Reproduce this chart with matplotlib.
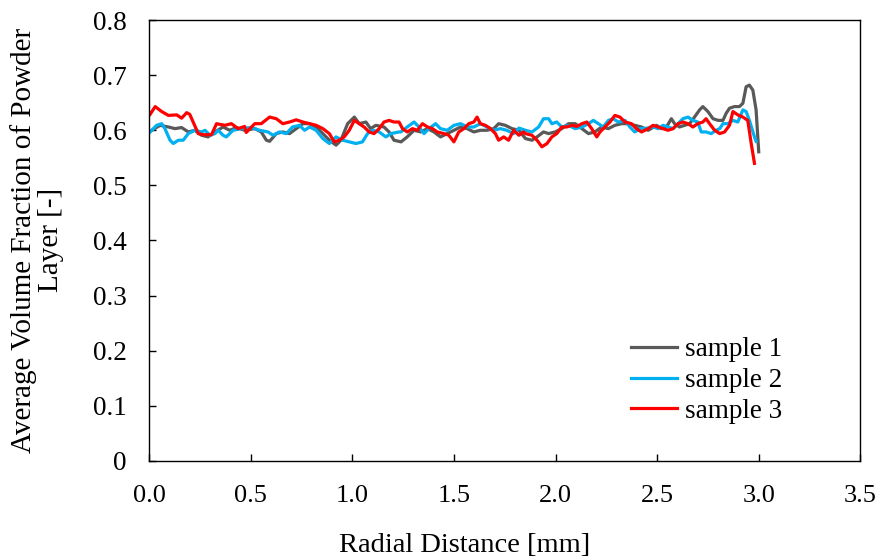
import matplotlib
matplotlib.use("Agg")
import matplotlib.pyplot as plt
from matplotlib.ticker import FuncFormatter

plt.rcParams['font.family'] = ['Liberation Serif', 'DejaVu Serif']

# sample 1 (grey)
x1 = [0.013, 0.054, 0.095, 0.127, 0.16, 0.193, 0.225, 0.258, 0.29, 0.324,
      0.364, 0.397, 0.43, 0.47, 0.52, 0.552, 0.577, 0.593, 0.626, 0.658,
      0.691, 0.724, 0.757, 0.79, 0.822, 0.855, 0.887, 0.92, 0.944, 0.977,
      1.01, 1.034, 1.067, 1.09, 1.116, 1.156, 1.181, 1.205, 1.24, 1.27,
      1.304, 1.337, 1.37, 1.402, 1.434, 1.467, 1.5, 1.533, 1.565, 1.598,
      1.63, 1.663, 1.696, 1.72, 1.753, 1.786, 1.82, 1.852, 1.884, 1.909,
      1.941, 1.966, 1.998, 2.031, 2.064, 2.097, 2.13, 2.162, 2.194, 2.227,
      2.26, 2.292, 2.325, 2.358, 2.39, 2.423, 2.456, 2.497, 2.521, 2.546,
      2.57, 2.586, 2.61, 2.635, 2.66, 2.684, 2.709, 2.725, 2.75, 2.775,
      2.8, 2.824, 2.84, 2.856, 2.88, 2.905, 2.922, 2.938, 2.954, 2.971,
      2.987, 3.0]
y1 = [0.600, 0.609, 0.606, 0.603, 0.605, 0.597, 0.600, 0.591, 0.588, 0.597,
      0.606, 0.600, 0.605, 0.600, 0.603, 0.597, 0.582, 0.580, 0.594, 0.597,
      0.594, 0.603, 0.612, 0.612, 0.606, 0.594, 0.582, 0.573, 0.582, 0.612,
      0.624, 0.612, 0.615, 0.603, 0.609, 0.606, 0.597, 0.582, 0.579, 0.588,
      0.600, 0.597, 0.603, 0.597, 0.588, 0.594, 0.600, 0.606, 0.603, 0.597,
      0.600, 0.600, 0.603, 0.612, 0.609, 0.603, 0.600, 0.585, 0.582, 0.588,
      0.597, 0.594, 0.597, 0.603, 0.612, 0.612, 0.603, 0.594, 0.597, 0.606,
      0.603, 0.609, 0.612, 0.612, 0.609, 0.606, 0.600, 0.609, 0.603, 0.606,
      0.621, 0.612, 0.606, 0.609, 0.612, 0.624, 0.637, 0.643, 0.634, 0.621,
      0.618, 0.618, 0.631, 0.640, 0.643, 0.643, 0.649, 0.679, 0.682, 0.673,
      0.637, 0.561]

# sample 2 (blue)
x2 = [0.005, 0.037, 0.062, 0.078, 0.103, 0.119, 0.144, 0.168, 0.193, 0.225,
      0.258, 0.275, 0.30, 0.324, 0.34, 0.364, 0.38, 0.413, 0.454, 0.503,
      0.544, 0.585, 0.61, 0.642, 0.675, 0.706, 0.74, 0.765, 0.79, 0.822,
      0.855, 0.887, 0.92, 0.952, 0.985, 1.018, 1.05, 1.075, 1.10, 1.132,
      1.165, 1.19, 1.23, 1.239, 1.27, 1.304, 1.328, 1.353, 1.377, 1.41,
      1.434, 1.467, 1.5, 1.533, 1.565, 1.598, 1.63, 1.663, 1.696, 1.729,
      1.76, 1.794, 1.82, 1.852, 1.884, 1.917, 1.941, 1.966, 1.982, 2.006,
      2.031, 2.064, 2.097, 2.13, 2.162, 2.186, 2.211, 2.235, 2.26, 2.284,
      2.309, 2.342, 2.366, 2.39, 2.415, 2.456, 2.48, 2.505, 2.529, 2.554,
      2.578, 2.603, 2.627, 2.652, 2.676, 2.7, 2.717, 2.741, 2.766, 2.79,
      2.808, 2.824, 2.848, 2.873, 2.897, 2.922, 2.938, 2.954, 2.979, 2.987]
y2 = [0.597, 0.609, 0.612, 0.603, 0.582, 0.576, 0.582, 0.582, 0.594, 0.600,
      0.597, 0.600, 0.591, 0.594, 0.600, 0.591, 0.588, 0.600, 0.603, 0.605,
      0.600, 0.597, 0.591, 0.597, 0.594, 0.606, 0.609, 0.600, 0.606, 0.600,
      0.585, 0.576, 0.588, 0.582, 0.579, 0.576, 0.579, 0.594, 0.600, 0.597,
      0.588, 0.594, 0.597, 0.597, 0.606, 0.615, 0.606, 0.594, 0.603, 0.612,
      0.603, 0.600, 0.609, 0.612, 0.606, 0.606, 0.612, 0.606, 0.600, 0.603,
      0.600, 0.594, 0.604, 0.600, 0.597, 0.606, 0.621, 0.621, 0.612, 0.615,
      0.606, 0.609, 0.603, 0.606, 0.612, 0.618, 0.612, 0.606, 0.618, 0.621,
      0.615, 0.618, 0.606, 0.597, 0.603, 0.604, 0.606, 0.603, 0.609, 0.606,
      0.603, 0.612, 0.621, 0.624, 0.618, 0.615, 0.597, 0.597, 0.594, 0.600,
      0.603, 0.612, 0.612, 0.618, 0.615, 0.637, 0.634, 0.618, 0.588, 0.580]

# sample 3 (red)
x3 = [0.005, 0.03, 0.062, 0.095, 0.136, 0.16, 0.185, 0.20, 0.242, 0.266,
      0.307, 0.332, 0.373, 0.405, 0.438, 0.47, 0.478, 0.52, 0.552, 0.593,
      0.626, 0.658, 0.691, 0.724, 0.757, 0.79, 0.822, 0.855, 0.887, 0.911,
      0.936, 0.96, 0.985, 1.01, 1.034, 1.058, 1.083, 1.107, 1.132, 1.156,
      1.181, 1.205, 1.23, 1.247, 1.27, 1.296, 1.32, 1.345, 1.37, 1.394,
      1.418, 1.451, 1.475, 1.5, 1.524, 1.549, 1.573, 1.598, 1.614, 1.63,
      1.655, 1.68, 1.704, 1.72, 1.745, 1.769, 1.794, 1.82, 1.843, 1.852,
      1.884, 1.909, 1.933, 1.958, 1.982, 2.006, 2.031, 2.055, 2.08, 2.105,
      2.13, 2.154, 2.178, 2.203, 2.219, 2.243, 2.268, 2.292, 2.317, 2.342,
      2.374, 2.398, 2.423, 2.456, 2.48, 2.505, 2.529, 2.554, 2.578, 2.603,
      2.627, 2.652, 2.676, 2.7, 2.725, 2.741, 2.758, 2.783, 2.808, 2.832,
      2.856, 2.873, 2.897, 2.922, 2.946, 2.963, 2.979]
y3 = [0.629, 0.643, 0.634, 0.627, 0.628, 0.622, 0.632, 0.629, 0.594, 0.592,
      0.592, 0.612, 0.609, 0.612, 0.603, 0.607, 0.596, 0.612, 0.612, 0.624,
      0.621, 0.612, 0.615, 0.619, 0.615, 0.612, 0.609, 0.603, 0.594, 0.579,
      0.582, 0.588, 0.600, 0.618, 0.612, 0.606, 0.597, 0.594, 0.603, 0.615,
      0.618, 0.615, 0.615, 0.603, 0.597, 0.603, 0.600, 0.612, 0.606, 0.603,
      0.597, 0.594, 0.591, 0.579, 0.597, 0.603, 0.612, 0.615, 0.624, 0.612,
      0.609, 0.603, 0.594, 0.582, 0.588, 0.582, 0.600, 0.591, 0.597, 0.594,
      0.591, 0.582, 0.570, 0.576, 0.588, 0.594, 0.606, 0.606, 0.609, 0.607,
      0.612, 0.615, 0.603, 0.588, 0.597, 0.606, 0.615, 0.627, 0.624, 0.615,
      0.612, 0.603, 0.597, 0.603, 0.609, 0.606, 0.603, 0.600, 0.603, 0.612,
      0.615, 0.612, 0.606, 0.612, 0.615, 0.621, 0.612, 0.600, 0.594, 0.597,
      0.609, 0.634, 0.628, 0.624, 0.618, 0.576, 0.540]

labels = ['sample 1', 'sample 2', 'sample 3']
colors = ['#595959', '#00B0F0', '#FF0000']

fig = plt.figure(figsize=(8.77, 5.58), dpi=100)
ax = fig.add_axes([0.170, 0.174, 0.811, 0.790])

for xs, ys, lab, c in zip([x1, x2, x3], [y1, y2, y3], labels, colors):
    ax.plot(xs, ys, color=c, lw=2.3, label=lab)

ax.set_xlim(0, 3.5)
ax.set_ylim(0, 0.8)
ax.set_xticks([0, 0.5, 1.0, 1.5, 2.0, 2.5, 3.0, 3.5])
ax.set_yticks([0, 0.1, 0.2, 0.3, 0.4, 0.5, 0.6, 0.7, 0.8])
ax.xaxis.set_major_formatter(FuncFormatter(lambda v, p: f"{v:.1f}"))
ax.yaxis.set_major_formatter(FuncFormatter(lambda v, p: "0" if v == 0 else f"{v:.1f}"))
ax.tick_params(axis='both', direction='in', length=5, width=1, labelsize=19.5)
ax.tick_params(axis='x', pad=17, labelsize=19)
ax.tick_params(axis='y', pad=16)
for s in ax.spines.values():
    s.set_linewidth(1.0)
    s.set_color('black')

ax.set_xlabel('Radial Distance [mm]', fontsize=20.5)
ax.xaxis.set_label_coords(0.443, -0.163)
ax.set_ylabel('Average Volume Fraction of Powder\nLayer [-]', fontsize=21,
              linespacing=1.05)
ax.yaxis.set_label_coords(-0.119, 0.501)

ax.legend(loc='upper left', bbox_to_anchor=(0.678, 0.281), frameon=False,
          fontsize=19.5, handlelength=1.7, handletextpad=0.3, labelspacing=0.22,
          borderpad=0, borderaxespad=0)

fig.savefig('out.png', dpi=100)
